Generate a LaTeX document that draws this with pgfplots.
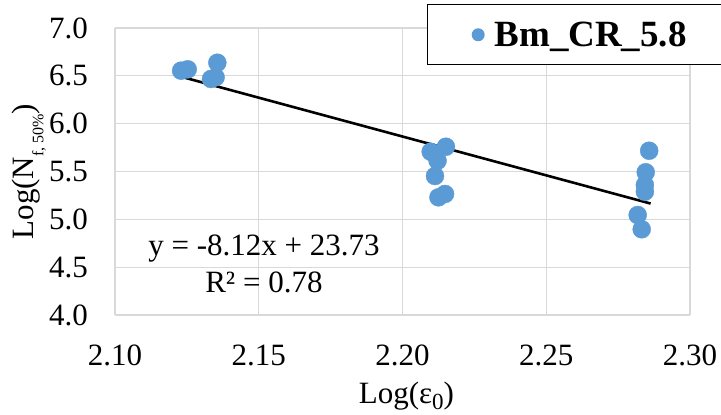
\documentclass[border=0pt]{standalone}
\usepackage{fontspec}
\setmainfont{Liberation Serif}
\usepackage{pgfplots}
\pgfplotsset{compat=1.18}
\definecolor{ptblue}{HTML}{5B9BD5}
\begin{document}
\begin{tikzpicture}
\begin{axis}[name=ax, scale only axis, width=575bp, height=287bp,
  xmin=2.10, xmax=2.30, ymin=4.0, ymax=7.0,
  xtick={2.10,2.15,2.20,2.25,2.30}, ytick={4.0,4.5,5.0,5.5,6.0,6.5,7.0},
  grid=major, grid style={draw=black!15, line width=1.3bp},
  axis line style={draw=none}, major tick length=0pt,
  tick label style={font=\fontsize{31bp}{36bp}\selectfont, inner sep=0pt},
  xticklabel={\pgfmathprintnumber[fixed,fixed zerofill,precision=2,assume math mode=true]{\tick}},
  yticklabel={\pgfmathprintnumber[fixed,fixed zerofill,precision=1,assume math mode=true]{\tick}},
  xticklabel style={anchor=base, yshift=-50bp},
  yticklabel style={anchor=east, xshift=-27bp},
  xlabel={Log(ε\raisebox{-0.2em}{\fontsize{23bp}{26bp}\selectfont 0})},
  ylabel={Log(N\raisebox{-0.3em}{\fontsize{16bp}{18bp}\selectfont f, 50\%})},
  label style={font=\fontsize{31bp}{36bp}\selectfont, inner sep=0pt},
  xlabel style={at={(axis description cs:0.5,0)}, anchor=base, yshift=-88bp, xshift=4bp},
  ylabel style={at={(axis description cs:0,0.5)}, anchor=base, yshift=81bp},
  legend style={at={(axis description cs:0.5426,1.0836)}, anchor=north west,
    draw=black, line width=1.4bp, inner xsep=44bp, inner ysep=15bp,
    font=\bfseries\fontsize{37bp}{42bp}\selectfont},
  legend image code/.code={\path[draw=none, fill=none] (-0.8bp,0) -- (20bp,0); \fill[ptblue, draw=none] (0.2cm,0cm) circle (6.5bp);},
]
\addplot[only marks, mark=*, mark size=9bp, mark options={fill=ptblue, draw=ptblue}]
coordinates {
(2.1230,6.554) (2.1253,6.568) (2.1356,6.637) (2.1334,6.467) (2.1350,6.485)
(2.2098,5.707) (2.2151,5.759) (2.2122,5.613) (2.2113,5.453) (2.2125,5.230) (2.2148,5.265)
(2.2858,5.717) (2.2846,5.492) (2.2843,5.359) (2.2843,5.289) (2.2818,5.045) (2.2832,4.896)
};
\addlegendentry{Bm\_CR\_5.8}
\addplot[black, line width=2.6bp, no marks, forget plot] coordinates {(2.1226,6.494) (2.2863,5.165)};
\node[font=\fontsize{31bp}{36bp}\selectfont, anchor=base, inner sep=0pt] at (axis cs:2.1518,4.627) {y = -8.12x + 23.73};
\node[font=\fontsize{31bp}{36bp}\selectfont, anchor=base, inner sep=0pt] at (axis cs:2.1518,4.240) {R² = 0.78};
\end{axis}
\pgfresetboundingbox
\path (ax.south west) ++(-115bp,-100bp) rectangle ++(721bp,415bp);
\end{tikzpicture}
\end{document}
